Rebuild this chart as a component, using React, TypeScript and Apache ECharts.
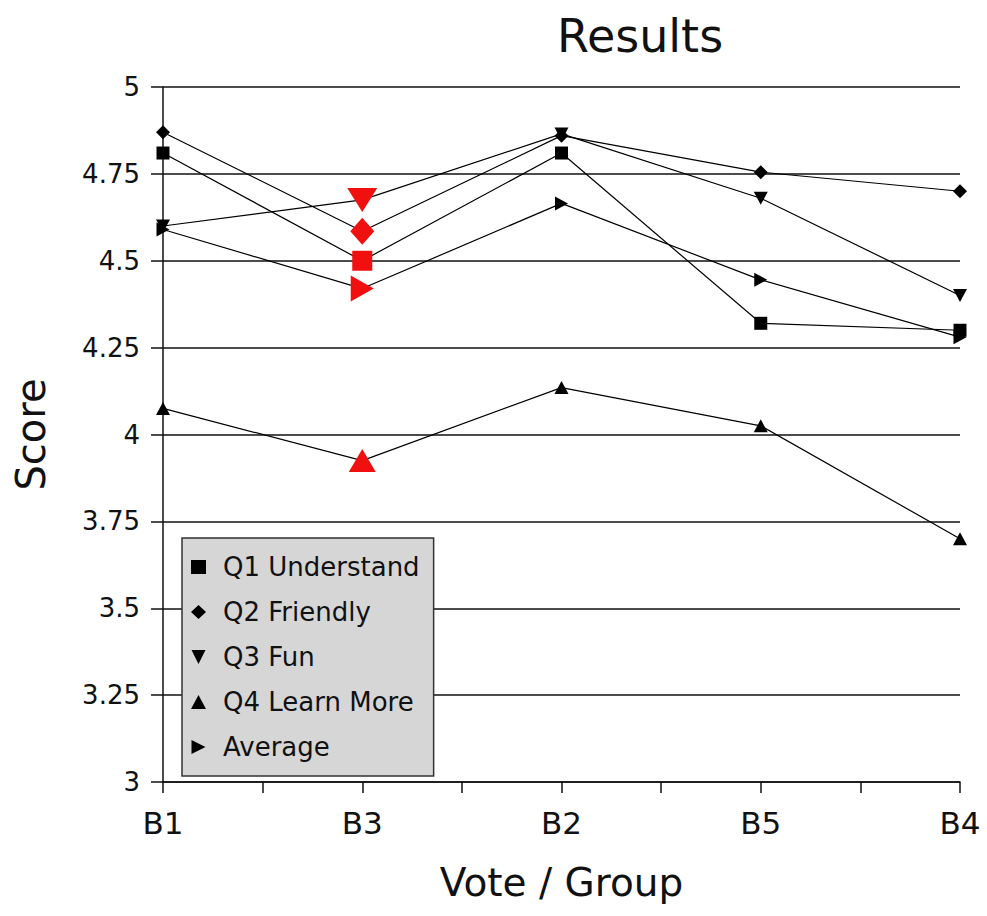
import React, { useEffect, useRef } from 'react';
import * as echarts from 'echarts';

const categories = ['B1', 'B3', 'B2', 'B5', 'B4'];
const seriesNames = ['Q1 Understand', 'Q2 Friendly', 'Q3 Fun', 'Q4 Learn More', 'Average'];
const q1Understand = [4.81, 4.5, 4.81, 4.32, 4.3];
const q2Friendly = [4.87, 4.585, 4.86, 4.755, 4.7];
const q3Fun = [4.6, 4.675, 4.865, 4.68, 4.4];
const q4LearnMore = [4.075, 3.925, 4.135, 4.025, 3.7];
const average = [4.59, 4.42, 4.665, 4.445, 4.28];
const highlightIndex = 1;

const FONT = "'DejaVu Sans', Verdana, sans-serif";
const DOWN = 'path://M0,0L10,0L5,10Z';
const RIGHT = 'path://M0,0L10,5L0,10Z';

const seriesValues = [q1Understand, q2Friendly, q3Fun, q4LearnMore, average];
const symbols = ['rect', 'diamond', DOWN, 'triangle', RIGHT];
const normalSizes: any[] = [13, [14, 14], [14, 13], [14, 13], [13, 14]];
const highlightSizes: any[] = [20, [24, 27], [30, 24], [27, 23], [23, 26]];

export default function App() {
  const ref = useRef<HTMLDivElement>(null);
  useEffect(() => {
    if (!ref.current) return;
    const chart = echarts.init(ref.current, undefined, { renderer: 'svg' });
    const series = seriesValues.map((vals, si) => ({
      name: seriesNames[si],
      type: 'line',
      symbol: symbols[si],
      symbolSize: normalSizes[si],
      showAllSymbol: true,
      lineStyle: { color: '#000', width: 1.2 },
      itemStyle: { color: '#000' },
      emphasis: { disabled: true },
      data: vals.map((v, i) =>
        i === highlightIndex
          ? { value: [i, v], symbolSize: highlightSizes[si], itemStyle: { color: '#f01010' } }
          : { value: [i, v] }
      ),
    }));
    chart.setOption({
      animation: false,
      backgroundColor: '#fff',
      textStyle: { fontFamily: FONT },
      title: {
        text: 'Results',
        left: 552,
        top: 8,
        textStyle: { fontSize: 46, fontWeight: 'normal', color: '#111', fontFamily: FONT },
      },
      grid: { left: 163, right: 27, top: 87, bottom: 134, containLabel: false },
      legend: {
        orient: 'vertical',
        left: 182,
        top: 538,
        data: seriesNames.map((n, i) => ({ name: n, icon: symbols[i] })),
        itemWidth: 15,
        itemHeight: 14,
        itemGap: 19,
        padding: [16, 14, 16, 9],
        backgroundColor: '#d6d6d6',
        borderColor: '#333',
        borderWidth: 1.5,
        selectedMode: false,
        textStyle: { fontSize: 26, lineHeight: 26, color: '#111', fontFamily: FONT, padding: [0, 0, 0, 12] },
      },
      xAxis: {
        type: 'value',
        min: 0,
        max: categories.length - 1,
        interval: 0.5,
        name: 'Vote / Group',
        nameLocation: 'middle',
        nameGap: 81,
        nameTextStyle: { fontSize: 39, color: '#111', fontFamily: FONT },
        axisLine: { show: true, lineStyle: { color: '#111', width: 1.5 } },
        axisTick: { show: true, length: 11, lineStyle: { color: '#111', width: 1.5 } },
        splitLine: { show: false },
        axisLabel: {
          fontSize: 31,
          color: '#111',
          margin: 25,
          fontFamily: FONT,
          formatter: (v: number) => (Number.isInteger(v) ? categories[v] : ''),
        },
      },
      yAxis: {
        type: 'value',
        min: 3,
        max: 5,
        interval: 0.25,
        name: 'Score',
        nameLocation: 'middle',
        nameGap: 112,
        nameTextStyle: { fontSize: 40, color: '#111', fontFamily: FONT },
        axisLine: { show: true, lineStyle: { color: '#111', width: 1.5 } },
        axisTick: { show: true, length: 12, lineStyle: { color: '#111', width: 1.5 } },
        splitLine: { show: true, lineStyle: { color: '#111', width: 1.5 } },
        axisLabel: { fontSize: 26, color: '#111', margin: 23, fontFamily: FONT },
      },
      series,
    });
    return () => chart.dispose();
  }, []);
  return <div ref={ref} style={{ position: 'absolute', left: 0, top: 0, width: 987, height: 916 }} />;
}
